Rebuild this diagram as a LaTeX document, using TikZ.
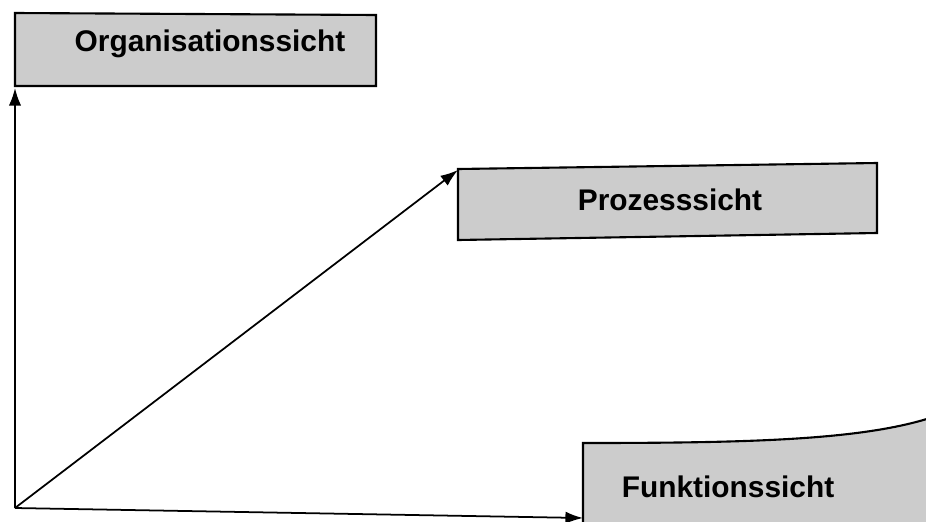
\documentclass[tikz,border=0pt]{standalone}
\usepackage{fontspec}
\setmainfont{Liberation Sans}
\usetikzlibrary{arrows.meta}
\tikzset{
  viewbox/.style={draw=black, line width=1.2pt, fill=gray!40},
  viewlabel/.style={font=\fontsize{17}{20}\selectfont\bfseries},
  axis/.style={line width=1pt, -{Latex[length=10pt,width=7pt]}}
}
\begin{document}
\begin{tikzpicture}[x=0.02cm, y=-0.02cm]
	\useasboundingbox (0,0) rectangle (926,521);
	% Blickrichtungen
	\coordinate (origin) at (15,508);
	\coordinate (orgtip) at (15,88);
	\coordinate (proztip) at (458,170);
	\coordinate (funktip) at (583,518);
	% Kaesten
	\draw [viewbox] (15,13) -- (376,15) -- (376,86) -- (15,86) -- cycle;
	\node [viewlabel] (org) at (210,44) {Organisationssicht};
	\draw [viewbox] (458,169) -- (877,163) -- (877,233) -- (458,240) -- cycle;
	\node [viewlabel] (proz) at (670,200) {Prozesssicht};
	\begin{scope}
		\clip (0,0) rectangle (926,521);
		\draw [viewbox] (583,530) -- (583,443) .. controls (750,443) and (860,440) .. (930,418) -- (935,530) -- cycle;
	\end{scope}
	\node [viewlabel] (funk) at (728,487) {Funktionssicht};
	% Pfeile
	\draw [axis] (origin) -- (orgtip);
	\draw [axis] (origin) -- (proztip);
	\draw [axis] (origin) -- (funktip);
\end{tikzpicture}
\end{document}
